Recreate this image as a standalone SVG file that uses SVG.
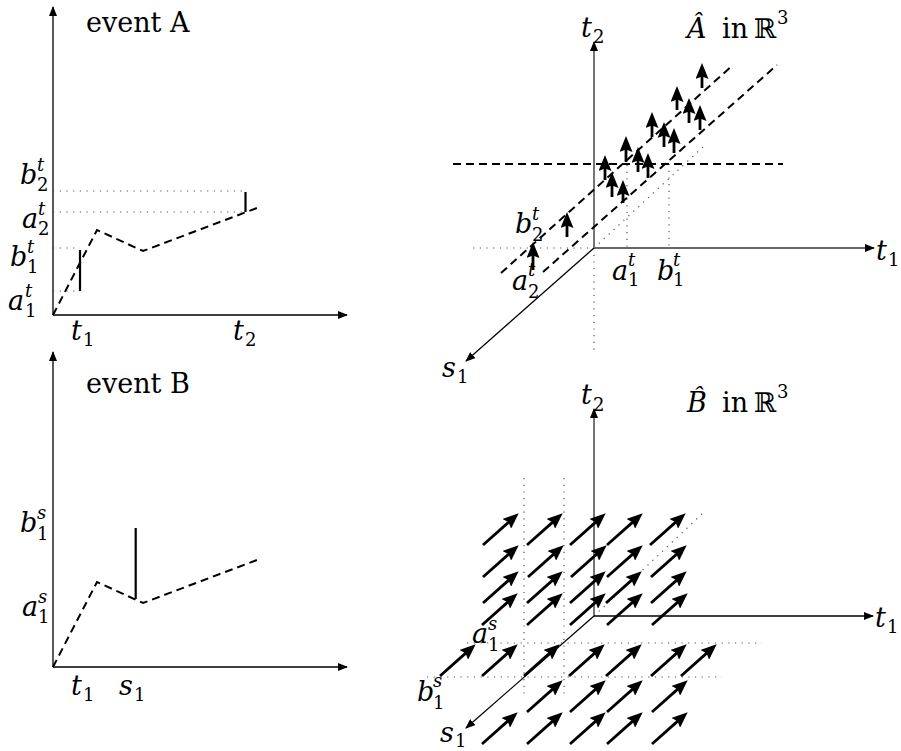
<svg xmlns="http://www.w3.org/2000/svg" width="901" height="751" viewBox="0 0 901 751">
<style>
text{font-family:'DejaVu Serif','Liberation Serif',serif;fill:#000}
.mi{font-size:27px;font-style:italic}
.sp{font-size:18px;font-style:italic}
.sb{font-size:18px}
.rm{font-size:27px}
.ax{stroke:#000;stroke-width:1.3;fill:none;marker-end:url(#ah)}
.axg{stroke:#666;stroke-width:1.8;fill:none;marker-end:url(#ah)}
.ds{stroke:#000;stroke-width:2;stroke-dasharray:8 5;fill:none}
.dt{stroke:#555;stroke-width:1.2;stroke-dasharray:1.2 5.5;fill:none}
.sl{stroke:#000;stroke-width:2.2}
.ar{stroke:#000;stroke-width:2.8;marker-end:url(#hd)}
</style>
<defs>
<marker id="ah" viewBox="0 0 10 8" refX="9" refY="4" markerWidth="10" markerHeight="8" markerUnits="userSpaceOnUse" orient="auto"><path d="M0,0 L10,4 L0,8 z" fill="#000"/></marker>
<marker id="hd" viewBox="0 0 16 13" refX="3" refY="6.5" markerWidth="16" markerHeight="13" markerUnits="userSpaceOnUse" orient="auto"><path d="M0,0 L16,6.5 L0,13 L2.5,6.5 z" fill="#000"/></marker>
</defs>

<g id="panelA">
  <g id="axesA">
    <line class="ax" x1="53" y1="315" x2="53" y2="7"/>
    <line class="ax" x1="53" y1="315" x2="347" y2="315"/>
  </g>
  <g id="dotsA">
    <line class="dt" x1="53" y1="191" x2="245" y2="191"/>
    <line class="dt" x1="53" y1="212" x2="245" y2="212"/>
    <line class="dt" x1="53" y1="248" x2="80" y2="248"/>
    <line class="dt" x1="53" y1="291" x2="80" y2="291"/>
  </g>
  <polyline id="curveA" class="ds" points="53,315 97,230 143,251 257,208"/>
  <g id="intervalsA">
    <line class="sl" x1="80" y1="250" x2="80" y2="291"/>
    <line class="sl" x1="245.5" y1="192" x2="245.5" y2="212"/>
  </g>
  <text id="titleA" class="rm" x="86" y="32">event A</text>
  <g id="lab-b2t"><text class="mi" x="20" y="184">b</text><text class="sp" x="37" y="171">t</text><text class="sb" x="37" y="191">2</text></g>
  <g id="lab-a2t"><text class="mi" x="22" y="228">a</text><text class="sp" x="38" y="215">t</text><text class="sb" x="38" y="235">2</text></g>
  <g id="lab-b1t"><text class="mi" x="10" y="266">b</text><text class="sp" x="27" y="253">t</text><text class="sb" x="27" y="273">1</text></g>
  <g id="lab-a1t"><text class="mi" x="8" y="310">a</text><text class="sp" x="25" y="297">t</text><text class="sb" x="25" y="317">1</text></g>
  <g id="lab-t1A"><text class="mi" x="71" y="340">t</text><text class="sb" x="83" y="346">1</text></g>
  <g id="lab-t2A"><text class="mi" x="233" y="340">t</text><text class="sb" x="245" y="346">2</text></g>
</g>

<g id="panelB">
  <g id="axesB">
    <line class="ax" x1="53" y1="667" x2="53" y2="352"/>
    <line class="ax" x1="53" y1="667" x2="347" y2="667"/>
  </g>
  <polyline id="curveB" class="ds" points="53,667 97,582 143,603 257,560"/>
  <line id="intervalB" class="sl" x1="135.7" y1="528" x2="135.7" y2="599"/>
  <text id="titleB" class="rm" x="86" y="393">event B</text>
  <g id="lab-b1s"><text class="mi" x="20" y="532">b</text><text class="sp" x="37" y="519">s</text><text class="sb" x="37" y="540">1</text></g>
  <g id="lab-a1s"><text class="mi" x="22" y="616">a</text><text class="sp" x="38" y="603">s</text><text class="sb" x="38" y="623">1</text></g>
  <g id="lab-t1B"><text class="mi" x="71" y="695">t</text><text class="sb" x="83" y="701">1</text></g>
  <g id="lab-s1B"><text class="mi" x="119" y="695">s</text><text class="sb" x="134" y="701">1</text></g>
</g>

<g id="panelAhat">
  <g id="dotsAh">
    <line class="dt" x1="473" y1="248" x2="594" y2="248"/>
    <line class="dt" x1="594" y1="248" x2="594" y2="353"/>
    <line class="dt" x1="627" y1="165" x2="627" y2="248"/>
    <line class="dt" x1="669" y1="164" x2="669" y2="248"/>
    <line class="dt" x1="594" y1="248" x2="703" y2="147"/>
  </g>
  <g id="axesAh">
    <line class="axg" x1="594" y1="248" x2="594" y2="42"/>
    <line class="axg" x1="594" y1="248" x2="874" y2="248"/>
    <line class="ax" x1="594" y1="248" x2="466" y2="361"/>
  </g>
  <g id="dashAh">
    <line class="ds" x1="453" y1="164" x2="783" y2="164"/>
    <line class="ds" x1="501" y1="273" x2="733" y2="65"/>
    <line class="ds" x1="543" y1="272" x2="777" y2="65"/>
  </g>
  <g id="arrowsAh">
    <line class="ar" x1="702" y1="88" x2="702" y2="76"/>
    <line class="ar" x1="677" y1="110" x2="677" y2="99"/>
    <line class="ar" x1="689" y1="123" x2="689" y2="111"/>
    <line class="ar" x1="700" y1="130" x2="700" y2="118"/>
    <line class="ar" x1="652" y1="137" x2="652" y2="125"/>
    <line class="ar" x1="664" y1="147" x2="664" y2="135"/>
    <line class="ar" x1="674" y1="153" x2="674" y2="141"/>
    <line class="ar" x1="626" y1="162" x2="626" y2="149"/>
    <line class="ar" x1="638" y1="172" x2="638" y2="160"/>
    <line class="ar" x1="648" y1="178" x2="648" y2="166"/>
    <line class="ar" x1="605" y1="180" x2="605" y2="168"/>
    <line class="ar" x1="612" y1="197" x2="612" y2="185"/>
    <line class="ar" x1="623" y1="203" x2="623" y2="193"/>
    <line class="ar" x1="567" y1="237" x2="567" y2="225"/>
    <line class="ar" x1="533" y1="270" x2="533" y2="255"/>
  </g>
  <g id="lab-t2Ah"><text class="mi" x="581" y="37">t</text><text class="sb" x="593" y="43">2</text></g>
  <g id="titleAh"><text class="mi" x="687" y="38">Â</text><text class="rm" x="722" y="38">in</text><text class="rm" x="754" y="38" font-size="29">ℝ</text><text class="sb" x="777" y="24">3</text></g>
  <g id="lab-t1Ah"><text class="mi" x="876" y="260">t</text><text class="sb" x="888" y="266">1</text></g>
  <g id="lab-s1Ah"><text class="mi" x="442" y="377">s</text><text class="sb" x="457" y="383">1</text></g>
  <g id="lab-b2tAh"><text class="mi" x="515" y="233">b</text><text class="sp" x="532" y="220">t</text><text class="sb" x="532" y="241">2</text></g>
  <g id="lab-a2tAh"><text class="mi" x="512" y="290">a</text><text class="sp" x="528" y="276">t</text><text class="sb" x="528" y="298">2</text></g>
  <g id="lab-a1tAh"><text class="mi" x="612" y="280">a</text><text class="sp" x="628" y="266">t</text><text class="sb" x="628" y="286">1</text></g>
  <g id="lab-b1tAh"><text class="mi" x="657" y="280">b</text><text class="sp" x="673" y="266">t</text><text class="sb" x="673" y="286">1</text></g>
</g>

<g id="panelBhat">
  <g id="dotsBh">
    <line class="dt" x1="524" y1="478" x2="524" y2="697"/>
    <line class="dt" x1="564" y1="478" x2="564" y2="697"/>
    <line class="dt" x1="467" y1="643" x2="762" y2="643"/>
    <line class="dt" x1="427" y1="677" x2="722" y2="677"/>
    <line class="dt" x1="594" y1="616" x2="703" y2="513"/>
  </g>
  <g id="axesBh">
    <line class="axg" x1="594" y1="616" x2="594" y2="409"/>
    <line class="ax" x1="594" y1="616" x2="873" y2="616"/>
    <line class="ax" x1="594" y1="616" x2="466" y2="728"/>
  </g>
  <g id="arrowsBh">
    <line class="ar" x1="483" y1="545" x2="509" y2="521.9"/>
    <line class="ar" x1="527" y1="545" x2="553" y2="521.9"/>
    <line class="ar" x1="570" y1="545" x2="596" y2="521.9"/>
    <line class="ar" x1="607" y1="545" x2="633" y2="521.9"/>
    <line class="ar" x1="650" y1="545" x2="676" y2="521.9"/>

    <line class="ar" x1="483" y1="577" x2="509" y2="553.9"/>
    <line class="ar" x1="528" y1="577" x2="554" y2="553.9"/>
    <line class="ar" x1="571" y1="577" x2="597" y2="553.9"/>
    <line class="ar" x1="607" y1="577" x2="633" y2="553.9"/>
    <line class="ar" x1="651" y1="577" x2="677" y2="553.9"/>

    <line class="ar" x1="483" y1="603" x2="509" y2="579.9"/>
    <line class="ar" x1="527" y1="603" x2="553" y2="579.9"/>
    <line class="ar" x1="570" y1="603" x2="596" y2="579.9"/>
    <line class="ar" x1="606" y1="603" x2="632" y2="579.9"/>
    <line class="ar" x1="651" y1="603" x2="677" y2="579.9"/>

    <line class="ar" x1="482" y1="625" x2="508" y2="601.9"/>
    <line class="ar" x1="527" y1="625" x2="553" y2="601.9"/>
    <line class="ar" x1="570" y1="625" x2="596" y2="601.9"/>
    <line class="ar" x1="607" y1="625" x2="633" y2="601.9"/>
    <line class="ar" x1="652" y1="625" x2="678" y2="601.9"/>

    <line class="ar" x1="440" y1="676" x2="466" y2="652.9"/>
    <line class="ar" x1="482" y1="676" x2="508" y2="652.9"/>
    <line class="ar" x1="524" y1="676" x2="550" y2="652.9"/>
    <line class="ar" x1="569" y1="676" x2="595" y2="652.9"/>
    <line class="ar" x1="606" y1="676" x2="632" y2="652.9"/>
    <line class="ar" x1="651" y1="676" x2="677" y2="652.9"/>
    <line class="ar" x1="681" y1="676" x2="707" y2="652.9"/>

    <line class="ar" x1="527" y1="712" x2="553" y2="688.9"/>
    <line class="ar" x1="570" y1="712" x2="596" y2="688.9"/>
    <line class="ar" x1="607" y1="712" x2="633" y2="688.9"/>
    <line class="ar" x1="652" y1="712" x2="678" y2="688.9"/>

    <line class="ar" x1="482" y1="744" x2="508" y2="720.9"/>
    <line class="ar" x1="527" y1="744" x2="553" y2="720.9"/>
    <line class="ar" x1="570" y1="744" x2="596" y2="720.9"/>
    <line class="ar" x1="607" y1="744" x2="633" y2="720.9"/>
    <line class="ar" x1="652" y1="744" x2="678" y2="720.9"/>
  </g>
  <g id="lab-t2Bh"><text class="mi" x="581" y="404">t</text><text class="sb" x="593" y="411">2</text></g>
  <g id="titleBh"><text class="mi" x="687" y="412">B̂</text><text class="rm" x="722" y="412">in</text><text class="rm" x="754" y="412" font-size="29">ℝ</text><text class="sb" x="777" y="398">3</text></g>
  <g id="lab-t1Bh"><text class="mi" x="875" y="627">t</text><text class="sb" x="887" y="633">1</text></g>
  <g id="lab-a1sBh"><text class="mi" x="472" y="643">a</text><text class="sp" x="488" y="630">s</text><text class="sb" x="488" y="651">1</text></g>
  <g id="lab-b1sBh"><text class="mi" x="417" y="701">b</text><text class="sp" x="433" y="687">s</text><text class="sb" x="433" y="709">1</text></g>
  <g id="lab-s1Bh"><text class="mi" x="440" y="742">s</text><text class="sb" x="455" y="747">1</text></g>
</g>
</svg>
